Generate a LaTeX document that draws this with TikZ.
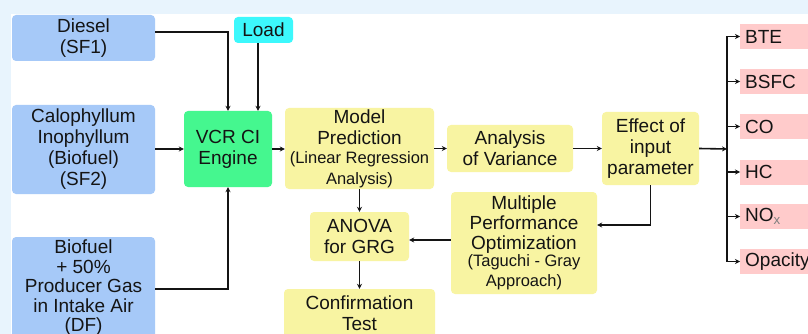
\documentclass[tikz,border=0pt]{standalone}
\usepackage{fontspec}
\setmainfont{Liberation Sans}
\usetikzlibrary{arrows.meta}
\definecolor{bandblue}{HTML}{E8F4FD}
\definecolor{inblue}{HTML}{A6C9F8}
\definecolor{loadcyan}{HTML}{3CF8FC}
\definecolor{enggreen}{HTML}{45F78F}
\definecolor{boxyellow}{HTML}{F8F4A2}
\definecolor{outpink}{HTML}{FFCBCB}
\definecolor{ink}{HTML}{141414}
\tikzset{
  box/.style={rectangle, rounded corners=4pt, inner sep=0pt, align=center, text=ink,
    font=\fontsize{19}{21}\selectfont},
  inbox/.style={box, fill=inblue},
  ybox/.style={box, fill=boxyellow},
  outbox/.style={rectangle, fill=outpink, anchor=west, minimum height=25pt, text width=70pt,
    inner xsep=5pt, inner ysep=0pt, align=left, text=ink, font=\fontsize{19}{21}\selectfont},
  arr/.style={draw=ink, line width=1.6pt, -{Stealth[length=5pt,width=5pt]}},
  ln/.style={draw=ink, line width=1.6pt}
}
\begin{document}
\begin{tikzpicture}[x=1pt,y=-1pt]
\useasboundingbox (0,0) rectangle (808,334);
\fill[bandblue] (0,0) rectangle (808,334);
\fill[white] (11,14) rectangle (808,334);

\node[inbox, minimum width=143pt, minimum height=46pt] (Diesel) at (83.5,38) {Diesel\\(SF1)};
\node[box, fill=loadcyan, minimum width=59pt, minimum height=26pt] (Load) at (263.5,30) {Load};
\node[inbox, minimum width=143pt, minimum height=89pt] (Calo) at (83.5,149.5) {Calophyllum\\Inophyllum\\(Biofuel)\\(SF2)};
\node[inbox, minimum width=143pt, minimum height=102pt, font=\fontsize{19}{19.5}\selectfont] (DF) at (83.5,288) {Biofuel\\+ 50\%\\Producer Gas\\in Intake Air\\(DF)};
\node[box, fill=enggreen, minimum width=88pt, minimum height=76pt] (Engine) at (228,149) {VCR CI\\Engine};
\node[ybox, minimum width=149pt, minimum height=81pt] (MP) at (359.5,148.5) {Model\\Prediction\\[-2pt]{\fontsize{16.5}{18}\selectfont (Linear Regression}\\{\fontsize{16.5}{18}\selectfont Analysis)}};
\node[ybox, minimum width=99pt, minimum height=49pt] (ANOVA) at (359.5,236.5) {ANOVA\\for GRG};
\node[ybox, minimum width=126pt, minimum height=47pt] (AoV) at (510,148.5) {Analysis\\of Variance};
\node[ybox, minimum width=97pt, minimum height=73pt] (Effect) at (650.5,148.5) {Effect of\\input\\parameter};
\node[ybox, minimum width=146pt, minimum height=102pt, font=\fontsize{19}{20}\selectfont] (MPO) at (524,243) {Multiple\\Performance\\Optimization\\[-3pt]{\fontsize{16.5}{17}\selectfont (Taguchi - Gray}\\{\fontsize{16.5}{17}\selectfont Approach)}};
\node[ybox, minimum width=151pt, minimum height=49pt] (Conf) at (359.5,313.5) {Confirmation\\Test};

\node[outbox] (BTE) at (740,36.5) {BTE};
\node[outbox] (BSFC) at (740,81.5) {BSFC};
\node[outbox] (CO) at (740,126.5) {CO};
\node[outbox] (HC) at (740,172) {HC};
\node[outbox] (NOx) at (740,216.5) {NO\textsubscript{\color{gray}x}};
\node[outbox] (Opa) at (740,261.5) {Opacity};
\coordinate (bus) at (727,149);

\draw[arr] ([yshift=6pt]Diesel.east) -| (Engine.north);
\draw[arr] ([xshift=-5.5pt]Load.south) -- ([xshift=-5.5pt]Load.south |- Engine.north);
\draw[arr] (Calo.east |- Engine.west) -- (Engine.west);
\draw[arr] ([yshift=-1pt]DF.east) -| (Engine.south);
\draw[arr] (Engine.east) -- (Engine.east -| MP.west);
\draw[arr] (MP.east |- AoV.west) -- (AoV.west);
\draw[arr] (AoV.east) -- (AoV.east -| Effect.west);
\draw[arr] (Effect.east) -- (bus);
\draw[ln] (bus |- BTE.west) -- (bus |- Opa.west);
\foreach \o in {BTE,BSFC,CO,HC,NOx,Opa} {
  \draw[arr] (bus |- \o.west) -- (\o.west);
}
\draw[arr] (Effect.south) |- ([yshift=18pt]MPO.east);
\draw[arr] ([yshift=3pt]MPO.west) -- ([yshift=3pt]MPO.west -| ANOVA.east);
\draw[arr] (MP.south) -- (ANOVA.north);
\draw[arr] (ANOVA.south) -- (Conf.north);
\end{tikzpicture}
\end{document}
